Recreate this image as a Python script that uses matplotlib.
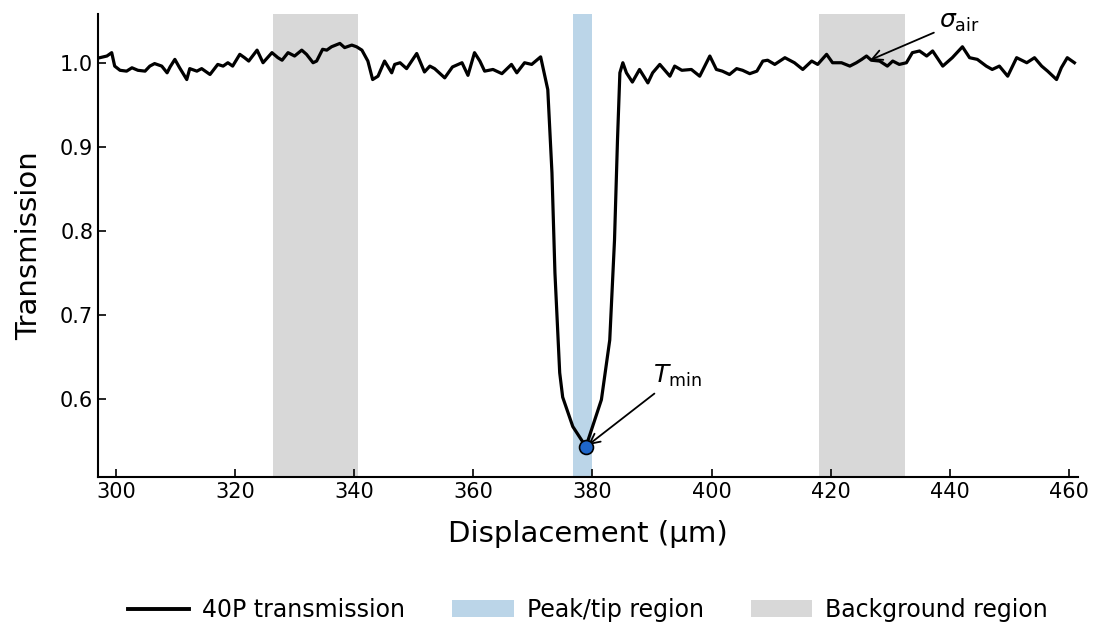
import numpy as np
import matplotlib
matplotlib.use("Agg")
import matplotlib.pyplot as plt
from matplotlib.lines import Line2D
from matplotlib.patches import Patch

# values
displacement = [
    297.3, 298.5, 299.3, 299.8, 300.7, 301.8, 302.7, 303.7, 304.9, 305.7,
    306.5, 307.7, 308.6, 309.1, 309.9, 310.7, 311.9, 312.4, 313.6, 314.4,
    315.8, 317.1, 318.0, 318.8, 319.6, 320.8, 321.6,
    322.3, 323.7, 324.7, 326.2, 327.2, 327.9, 328.9, 330.0, 331.2, 332.0,
    333.1, 333.7, 334.7, 335.4, 336.2, 337.6, 338.4, 339.6, 340.4, 341.3,
    342.3, 343.1, 344.0, 345.1, 346.3,
    346.8, 347.7, 348.8, 350.5, 351.8, 352.7, 353.5, 355.2, 356.5, 358.1,
    359.1, 360.2, 361.1, 361.9, 363.3, 364.8, 366.4, 367.3, 368.6, 369.8,
    371.3,
    372.5, 373.2, 373.7, 374.5, 375.0, 376.7, 378.9, 381.5, 382.9, 383.7,
    384.2, 384.6, 385.1,
    385.7, 386.7, 387.9, 389.3, 390.1, 391.3, 393.0, 393.8, 395.0, 396.6,
    398.0, 399.7, 400.8, 401.8, 403.0, 404.2, 405.2, 406.4, 407.6, 408.6,
    409.4,
    410.6, 412.3, 413.9, 415.3, 416.8, 417.8, 419.3, 420.3, 421.8, 423.2,
    424.3, 425.2, 426.0, 426.8, 428.2, 429.5, 430.4, 431.5, 432.7,
    433.7, 434.9, 436.1, 437.1, 438.8, 440.4, 442.1, 443.3, 444.6, 446.1,
    447.1, 448.3, 449.7, 451.2, 452.9, 454.2, 455.4, 456.4, 457.9, 458.7,
    459.7, 460.9,
]
transmission = [
    1.006, 1.008, 1.012, 0.996, 0.991, 0.990, 0.994, 0.991, 0.990, 0.996,
    0.999, 0.996, 0.988, 0.995, 1.004, 0.994, 0.980, 0.993, 0.990, 0.993,
    0.986, 0.998, 0.996, 1.000, 0.996, 1.010, 1.006,
    1.002, 1.015, 1.000, 1.012, 1.006, 1.003, 1.012, 1.008, 1.015, 1.010,
    1.000, 1.002, 1.016, 1.015, 1.019, 1.023, 1.018, 1.021, 1.019, 1.015,
    1.002, 0.980, 0.984, 1.002, 0.988,
    0.998, 1.000, 0.993, 1.011, 0.989, 0.996, 0.993, 0.982, 0.995, 1.000,
    0.985, 1.012, 1.002, 0.990, 0.992, 0.987, 0.998, 0.988, 1.000, 0.998,
    1.007,
    0.968, 0.869, 0.750, 0.631, 0.602, 0.567, 0.543, 0.599, 0.670, 0.789,
    0.908, 0.988, 1.000,
    0.988, 0.977, 0.992, 0.976, 0.988, 0.998, 0.984, 0.996, 0.991, 0.992,
    0.984, 1.008, 0.992, 0.990, 0.986, 0.993, 0.991, 0.987, 0.990, 1.002,
    1.003,
    0.998, 1.006, 1.000, 0.992, 1.002, 0.998, 1.010, 1.000, 1.000, 0.996,
    1.000, 1.004, 1.008, 1.003, 1.002, 0.996, 1.002, 0.998, 1.000,
    1.012, 1.014, 1.008, 1.014, 0.996, 1.006, 1.019, 1.006, 1.004, 0.996,
    0.992, 0.996, 0.984, 1.006, 1.000, 1.006, 0.996, 0.990, 0.980, 0.994,
    1.006, 1.000,
]

peak_region = (376.8, 379.9)
background_regions = [(326.3, 340.6), (418.0, 432.4)]
t_min_point = (378.9, 0.543)
sigma_air_point = (426.2, 1.002)

fig = plt.figure(figsize=(10.98, 6.25), dpi=100)
ax = fig.add_axes([98 / 1098, 148 / 625, 980 / 1098, 463 / 625])

for lo, hi in background_regions:
    ax.axvspan(lo, hi, color='gray', alpha=0.3, lw=0)
ax.axvspan(*peak_region, color='tab:blue', alpha=0.3, lw=0)

ax.plot(displacement, transmission, color='black', lw=2.3, zorder=3)
ax.plot(*t_min_point, 'o', color='#1f66c9', mec='black', mew=1.2, ms=10, zorder=4)

ax.annotate(r'$T_{\mathrm{min}}$', xy=t_min_point, xytext=(390.1, 0.619),
            fontsize=18, arrowprops=dict(arrowstyle='->', color='black', lw=1.3))
ax.annotate(r'$\sigma_{\mathrm{air}}$', xy=sigma_air_point, xytext=(438.2, 1.042),
            fontsize=18, annotation_clip=False,
            arrowprops=dict(arrowstyle='->', color='black', lw=1.3))

ax.set_xlim(297, 461.5)
ax.set_ylim(0.507, 1.058)
ax.set_xticks(np.arange(300, 461, 20))
ax.set_yticks([0.6, 0.7, 0.8, 0.9, 1.0])
ax.tick_params(direction='in', length=6, width=1.2, labelsize=15)
ax.spines['top'].set_visible(False)
ax.spines['right'].set_visible(False)
for s in ('left', 'bottom'):
    ax.spines[s].set_linewidth(1.5)

ax.set_xlabel('Displacement (µm)', fontsize=21, labelpad=13)
ax.set_ylabel('Transmission', fontsize=21, labelpad=12)

handles = [
    Line2D([], [], color='black', lw=2.8, label='40P transmission'),
    Patch(color='tab:blue', alpha=0.3, lw=0, label='Peak/tip region'),
    Patch(color='gray', alpha=0.3, lw=0, label='Background region'),
]
fig.legend(handles=handles, loc='center', bbox_to_anchor=(588 / 1098, 1 - 610 / 625),
           ncol=3, frameon=False, fontsize=17, handlelength=2.6,
           handletextpad=0.55, columnspacing=2.0)

fig.savefig('out.png', dpi=100)
